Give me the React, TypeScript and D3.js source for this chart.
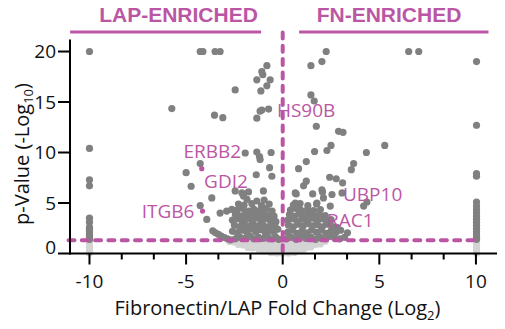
import React from "react";
import * as d3 from "d3";

const W = 505;
const H = 329;
const PURPLE = "#bb56a4";
const GRAY = "#808080";
const LIGHT = "#d4d4d4";

const xMajorTicks = [-10, -5, 0, 5, 10];
const xMinorTicks = [-8.33, -6.67, -3.33, -1.67, 1.67, 3.33, 6.67, 8.33];
const yTicks = [0, 5, 10, 15, 20];
const pThreshold = 1.3;
const headerLeft = "LAP-ENRICHED";
const headerRight = "FN-ENRICHED";
const xTitle = "Fibronectin/LAP Fold Change (Log";
const xTitleSub = "2";
const yTitle = "p-Value (-Log";
const yTitleSub = "10";

const geneLabels: { name: string; x: number; y: number }[] = [
  { name: "ERBB2", x: -5.14, y: 9.47 },
  { name: "GDI2", x: -4.07, y: 6.5 },
  { name: "ITGB6", x: -7.3, y: 3.53 },
  { name: "HS90B", x: -0.3, y: 13.5 },
  { name: "UBP10", x: 3.12, y: 5.18 },
  { name: "RAC1", x: 2.29, y: 2.64 },
];

const highlighted: [number, number][] = [
  [-4.19, 8.4],
  [-4.15, 4.2],
];

// saturated columns (|log2FC| capped at 10)
const colLeftSig = [20, 10.4, 7.3, 6.7, 3.5, 3.1, 2.6, 2.4, 2.2, 2.0, 1.8, 1.6, 1.4];
const colLeftNs = [1.2, 0.9, 0.6, 0.3, 0.05];
const colRightSig = [19.0, 12.7, 7.9, 7.65, 5.1, 4.7, 4.35, 4.0, 3.7, 3.4, 3.1, 2.8, 2.5, 2.2, 1.9, 1.6, 1.4];
const colRightNs = [1.2, 0.9, 0.6, 0.3, 0.05];

// scattered significant proteins
const scatterLeft: [number, number][] = [
  [-4.27, 20], [-4.13, 20], [-3.5, 20], [-3.24, 20],
  [-0.82, 18.6], [-1.08, 18.0], [-1.03, 17.7], [-1.34, 17.2], [-0.65, 17.2],
  [-0.82, 16.6], [-1.13, 16.1], [-2.46, 16.2], [-5.74, 14.35],
  [-1.17, 14.1], [-0.73, 14.3], [-1.08, 14.2], [-1.34, 13.4],
  [-3.53, 13.7], [-3.1, 13.45], [-1.94, 9.95], [-1.34, 10.05], [-1.2, 9.6],
  [-1.17, 9.3], [-0.6, 10.0], [-4.27, 8.9], [-5.0, 8.0], [-0.68, 8.5],
  [-0.56, 7.65], [-1.37, 7.8], [-4.74, 6.66], [-1.0, 6.2], [-2.46, 6.2],
  [-2.11, 6.0], [-1.77, 6.1], [-2.03, 5.7], [-3.67, 5.5], [-4.27, 4.75],
  [-1.34, 5.2], [-0.96, 5.3], [-3.93, 3.37], [-3.24, 4.0], [-2.9, 4.2],
  [-2.63, 4.36], [-2.29, 4.9], [-1.85, 5.35],
];
const scatterRight: [number, number][] = [
  [2.25, 20], [2.03, 19.0], [1.46, 18.6], [6.52, 20], [7.04, 20],
  [1.46, 15.7], [1.63, 15.1], [1.74, 12.6], [2.89, 12.1], [3.12, 12.0],
  [5.28, 10.7], [2.5, 10.7], [2.29, 10.2], [1.65, 10.1], [4.33, 10.0],
  [1.22, 9.1], [0.82, 8.4], [3.67, 8.9], [3.55, 8.3], [2.43, 7.55],
  [2.77, 7.4], [3.1, 7.0], [1.22, 7.16], [1.08, 6.7], [0.7, 5.9],
  [1.55, 5.9], [2.06, 6.1], [2.55, 5.84], [3.07, 6.0], [4.36, 5.1],
  [4.19, 4.7], [0.65, 5.0], [0.9, 4.35], [1.77, 5.0], [2.11, 5.5],
  [2.46, 4.7], [2.03, 6.3], [0.65, 6.0],
];

// dense cloud near the origin, significant
const denseLeft: [number, number][] = [
  [-3.62, 2.25], [-3.48, 2.05], [-3.33, 1.9], [-3.18, 1.72], [-3.02, 1.58], [-2.86, 1.45], [-2.7, 1.35],
  [-2.45, 1.45], [-2.2, 1.6], [-1.95, 1.5], [-1.7, 1.7], [-1.5, 1.45], [-1.25, 1.6], [-1.0, 1.5], [-0.8, 1.75], [-0.55, 1.45], [-0.35, 1.6], [-0.2, 1.4],
  [-2.6, 2.2], [-2.35, 2.05], [-2.1, 2.3], [-1.85, 2.1], [-1.6, 2.4], [-1.4, 2.15], [-1.15, 2.35], [-0.9, 2.05], [-0.7, 2.3], [-0.45, 2.1], [-0.25, 2.4],
  [-2.5, 2.8], [-2.25, 2.65], [-2.0, 2.9], [-1.8, 2.7], [-1.55, 2.95], [-1.3, 2.75], [-1.05, 2.9], [-0.85, 2.65], [-0.6, 2.85], [-0.4, 2.7],
  [-2.6, 3.3], [-2.35, 3.45], [-2.1, 3.2], [-1.9, 3.4], [-1.6, 3.25], [-1.35, 3.5], [-1.1, 3.2], [-0.9, 3.45], [-0.65, 3.3], [-0.35, 3.15],
  [-2.45, 3.85], [-2.2, 3.7], [-1.95, 3.95], [-1.7, 3.75], [-1.45, 3.9], [-1.2, 3.65], [-0.95, 3.95], [-0.7, 3.8], [-0.45, 3.7],
  [-2.35, 4.3], [-2.05, 4.45], [-1.75, 4.2], [-1.5, 4.4], [-1.2, 4.25], [-0.85, 4.45], [-0.55, 4.2],
  [-2.0, 4.8], [-1.6, 4.95], [-1.1, 4.75], [-0.7, 4.9],
];
const denseRight: [number, number][] = [
  [0.2, 1.45], [0.45, 1.6], [0.7, 1.4], [0.95, 1.7], [1.2, 1.5], [1.45, 1.65], [1.7, 1.4], [1.95, 1.6], [2.2, 1.45], [2.45, 1.7], [2.7, 1.5], [2.95, 1.45], [3.2, 1.6],
  [0.25, 2.1], [0.5, 2.3], [0.75, 2.0], [1.0, 2.25], [1.25, 2.05], [1.5, 2.35], [1.75, 2.1], [2.0, 2.3], [2.25, 2.0], [2.5, 2.25], [2.75, 2.1], [3.0, 2.3], [3.35, 2.05],
  [0.3, 2.8], [0.55, 2.65], [0.8, 2.9], [1.05, 2.7], [1.3, 2.95], [1.55, 2.75], [1.8, 2.85], [2.05, 2.65], [2.3, 2.9], [2.55, 2.7], [2.8, 2.6],
  [0.25, 3.3], [0.5, 3.45], [0.75, 3.2], [1.0, 3.4], [1.25, 3.25], [1.5, 3.5], [1.75, 3.3], [2.0, 3.45], [2.25, 3.2], [2.5, 3.35],
  [0.35, 3.85], [0.6, 3.7], [0.85, 3.95], [1.1, 3.75], [1.35, 3.9], [1.6, 3.7], [1.9, 3.85], [2.2, 3.75],
  [0.4, 4.3], [0.7, 4.45], [1.0, 4.2], [1.3, 4.4], [1.6, 4.25], [1.95, 4.35],
  [0.55, 4.8], [0.9, 4.95], [1.3, 4.75], [1.75, 4.9],
];
// non-significant (below threshold)
const nsCloud: [number, number][] = [
  [-2.75, 1.2], [-2.5, 1.15], [-2.25, 1.22], [-2.0, 1.12], [-1.75, 1.2], [-1.5, 1.1], [-1.25, 1.22], [-1.0, 1.15], [-0.75, 1.2], [-0.5, 1.1], [-0.25, 1.2],
  [0.0, 1.15], [0.25, 1.22], [0.5, 1.1], [0.75, 1.2], [1.0, 1.15], [1.25, 1.2], [1.5, 1.12], [1.75, 1.2], [2.0, 1.15], [2.2, 1.22],
  [-2.3, 0.9], [-2.05, 0.85], [-1.8, 0.92], [-1.55, 0.82], [-1.3, 0.9], [-1.05, 0.85], [-0.8, 0.92], [-0.55, 0.82], [-0.3, 0.9], [-0.05, 0.85],
  [0.2, 0.92], [0.45, 0.82], [0.7, 0.9], [0.95, 0.85], [1.2, 0.92], [1.45, 0.85], [1.7, 0.9], [1.95, 0.95],
  [-1.8, 0.6], [-1.55, 0.55], [-1.3, 0.62], [-1.05, 0.5], [-0.8, 0.6], [-0.55, 0.55], [-0.3, 0.62], [-0.05, 0.5],
  [0.2, 0.6], [0.45, 0.55], [0.7, 0.62], [0.95, 0.5], [1.2, 0.6], [1.45, 0.65],
  [-1.2, 0.3], [-0.95, 0.25], [-0.7, 0.32], [-0.45, 0.22], [-0.2, 0.3], [0.05, 0.25], [0.3, 0.32], [0.55, 0.22], [0.8, 0.3], [1.05, 0.35],
  [-0.6, 0.08], [-0.3, 0.05], [0.0, 0.02], [0.3, 0.05], [0.6, 0.1],
];

const x = d3.scaleLinear().domain([-11.06, 11.09]).range([69, 497]);
const y = d3.scaleLinear().domain([0, 21.2]).range([253.5, 39.4]);

export default function App() {
  const sig: [number, number][] = [
    ...colLeftSig.map((v) => [-10, v] as [number, number]),
    ...colRightSig.map((v) => [10.03, v] as [number, number]),
    ...scatterLeft,
    ...scatterRight,
    ...denseLeft,
    ...denseRight,
  ];
  const ns: [number, number][] = [
    ...colLeftNs.map((v) => [-10, v] as [number, number]),
    ...colRightNs.map((v) => [10.03, v] as [number, number]),
    ...nsCloud,
  ];
  const r = 3.6;
  const font = "'Open Sans', sans-serif";
  const y0 = y(0);
  return (
    <svg width={W} height={H} style={{ position: "absolute", left: 0, top: 0, display: "block" }}>
      <rect width={W} height={H} fill="white" />
      {/* header */}
      <text x={178.5} y={21.7} textAnchor="middle" fontFamily="'Liberation Sans', Arial, sans-serif" fontWeight="bold" fontSize={21} fill={PURPLE}>{headerLeft}</text>
      <text x={389} y={21.7} textAnchor="middle" fontFamily="'Liberation Sans', Arial, sans-serif" fontWeight="bold" fontSize={21} fill={PURPLE}>{headerRight}</text>
      <line x1={x(-11.0)} x2={x(-1.12)} y1={32} y2={32} stroke={PURPLE} strokeWidth={2.8} />
      <line x1={x(0.85)} x2={x(10.65)} y1={32} y2={32} stroke={PURPLE} strokeWidth={2.8} />

      {/* points */}
      {ns.map((d, i) => (
        <circle key={"n" + i} cx={x(d[0])} cy={y(d[1])} r={r} fill={LIGHT} />
      ))}
      {sig.map((d, i) => (
        <circle key={"s" + i} cx={x(d[0])} cy={y(d[1])} r={r} fill={GRAY} />
      ))}
      {highlighted.map((d, i) => (
        <circle key={"h" + i} cx={x(d[0])} cy={y(d[1])} r={2.6} fill={PURPLE} />
      ))}

      {/* threshold lines */}
      <line x1={68.5} x2={x(10.2)} y1={y(pThreshold)} y2={y(pThreshold)} stroke={PURPLE} strokeWidth={4} strokeDasharray="6 7.3" strokeLinecap="round" />
      <line x1={x(0)} x2={x(0)} y1={32.5} y2={y0} stroke={PURPLE} strokeWidth={4} strokeDasharray="6 7.3" strokeLinecap="round" />

      {/* labels */}
      {geneLabels.map((g) => (
        <text key={g.name} x={x(g.x)} y={y(g.y)} fontFamily={font} fontSize={19} fill={PURPLE}>{g.name}</text>
      ))}

      {/* axes */}
      <line x1={69} x2={497} y1={y0} y2={y0} stroke="black" strokeWidth={2} />
      <line x1={70} x2={70} y1={39.5} y2={y0 + 1} stroke="black" strokeWidth={2} />
      {xMajorTicks.map((t) => (
        <g key={"xt" + t}>
          <line x1={x(t)} x2={x(t)} y1={y0} y2={y0 + 11} stroke="black" strokeWidth={2} />
          <text x={x(t)} y={288.3} textAnchor="middle" fontFamily={font} fontSize={19} fill="#111">{t}</text>
        </g>
      ))}
      {xMinorTicks.map((t) => (
        <line key={"xm" + t} x1={x(t)} x2={x(t)} y1={y0} y2={y0 + 6} stroke="black" strokeWidth={2} />
      ))}
      {yTicks.map((t) => (
        <g key={"yt" + t}>
          <line x1={58} x2={70} y1={y(t)} y2={y(t)} stroke="black" strokeWidth={2} />
          <text x={56} y={t === 0 ? y(t) : y(t) + 6.8} textAnchor="end" fontFamily={font} fontSize={19} fill="#111">{t}</text>
        </g>
      ))}

      {/* titles */}
      <text x={277.5} y={315} textAnchor="middle" fontFamily={font} fontSize={20} fill="#111">
        {xTitle}
        <tspan fontSize={13} dy={4.5}>{xTitleSub}</tspan>
        <tspan dy={-4.5}>)</tspan>
      </text>
      <text transform="translate(28.5,154) rotate(-90)" textAnchor="middle" fontFamily={font} fontSize={20} fill="#111">
        {yTitle}
        <tspan fontSize={13} dy={4.5}>{yTitleSub}</tspan>
        <tspan dy={-4.5}>)</tspan>
      </text>
    </svg>
  );
}
